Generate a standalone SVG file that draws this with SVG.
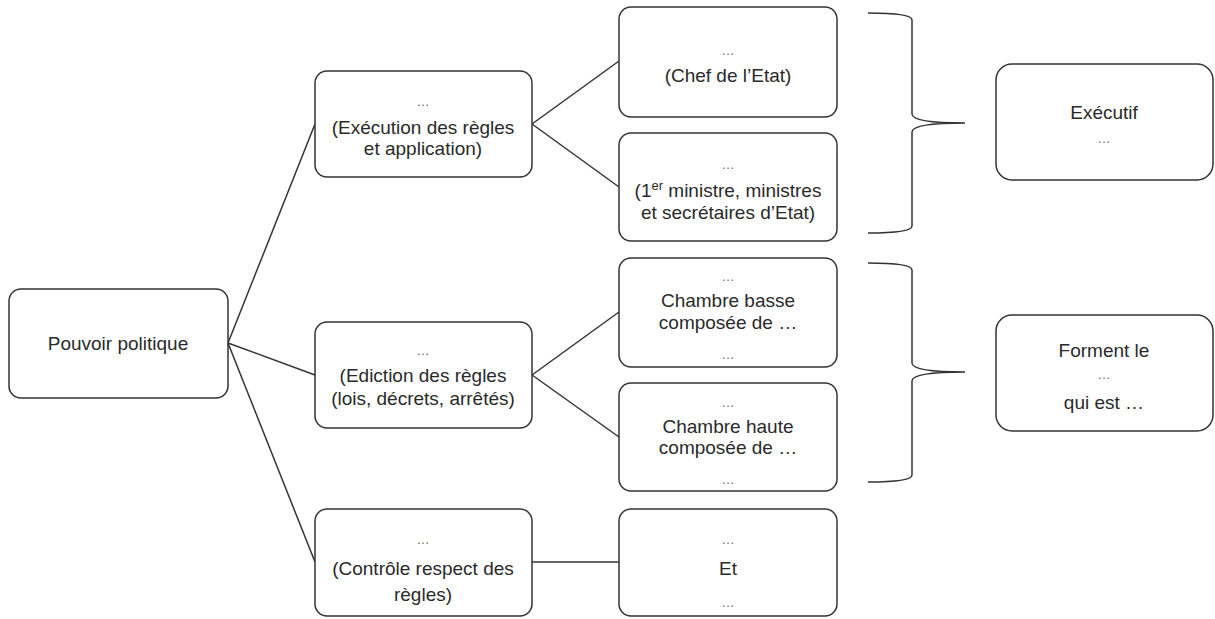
<svg xmlns="http://www.w3.org/2000/svg" width="1215" height="619" viewBox="0 0 1215 619">
<style>
.box{fill:#fff;stroke:#333;stroke-width:1.5}
.t{font-family:"Liberation Sans",Arial,sans-serif;font-size:19px;fill:#2a2a2a;text-anchor:middle}
.d{font-family:"Liberation Sans",Arial,sans-serif;font-size:13px;fill:#666;text-anchor:middle}
.c{fill:none;stroke:#333;stroke-width:1.5}
</style>
<rect width="1215" height="619" fill="#fff"/>
<g id="connectors">
<line class="c" x1="228" y1="343" x2="315" y2="124"/>
<line class="c" x1="228" y1="343" x2="315" y2="375"/>
<line class="c" x1="228" y1="343" x2="315" y2="562"/>
<line class="c" x1="532" y1="124" x2="619" y2="61"/>
<line class="c" x1="532" y1="124" x2="619" y2="187"/>
<line class="c" x1="532" y1="375" x2="619" y2="312"/>
<line class="c" x1="532" y1="375" x2="619" y2="437"/>
<line class="c" x1="532" y1="562" x2="619" y2="562"/>
</g>
<g id="brace1">
<path class="c" d="M868,13 Q912,13 912,20 L912,114 Q912,123 965,123 Q912,123 912,132 L912,226 Q912,233 868,233"/>
</g>
<g id="brace2">
<path class="c" d="M868,263 Q912,263 912,270 L912,363 Q912,372 965,372 Q912,372 912,381 L912,475 Q912,482 868,482"/>
</g>
<g id="pouvoir">
<rect class="box" x="9" y="289" width="219" height="109" rx="12"/>
<text class="t" x="118" y="350">Pouvoir politique</text>
</g>
<g id="execution">
<rect class="box" x="315" y="71" width="217" height="106" rx="12"/>
<text class="d" x="423" y="106">…</text>
<text class="t" x="423" y="134">(Exécution des règles</text>
<text class="t" x="423" y="155">et application)</text>
</g>
<g id="edition">
<rect class="box" x="315" y="322" width="217" height="106" rx="12"/>
<text class="d" x="423" y="355">…</text>
<text class="t" x="423" y="382">(Ediction des règles</text>
<text class="t" x="423" y="405">(lois, décrets, arrêtés)</text>
</g>
<g id="controle">
<rect class="box" x="315" y="509" width="217" height="107" rx="12"/>
<text class="d" x="423" y="544">…</text>
<text class="t" x="423" y="575">(Contrôle respect des</text>
<text class="t" x="423" y="601">règles)</text>
</g>
<g id="chef">
<rect class="box" x="619" y="7" width="218" height="110" rx="12"/>
<text class="d" x="728" y="55">…</text>
<text class="t" x="728" y="82">(Chef de l’Etat)</text>
</g>
<g id="ministres">
<rect class="box" x="619" y="133" width="218" height="108" rx="12"/>
<text class="d" x="728" y="169">…</text>
<text class="t" x="728" y="197">(1<tspan font-size="13" dy="-7">er</tspan><tspan dy="7"> ministre, ministres</tspan></text>
<text class="t" x="728" y="219">et secrétaires d’Etat)</text>
</g>
<g id="basse">
<rect class="box" x="619" y="258" width="218" height="109" rx="12"/>
<text class="d" x="728" y="281">…</text>
<text class="t" x="728" y="307">Chambre basse</text>
<text class="t" x="728" y="329">composée de …</text>
<text class="d" x="728" y="359">…</text>
</g>
<g id="haute">
<rect class="box" x="619" y="383" width="218" height="108" rx="12"/>
<text class="d" x="728" y="407">…</text>
<text class="t" x="728" y="433">Chambre haute</text>
<text class="t" x="728" y="454">composée de …</text>
<text class="d" x="728" y="484">…</text>
</g>
<g id="et">
<rect class="box" x="619" y="509" width="218" height="107" rx="12"/>
<text class="d" x="728" y="544">…</text>
<text class="t" x="728" y="575">Et</text>
<text class="d" x="728" y="607">…</text>
</g>
<g id="executif">
<rect class="box" x="996" y="64" width="217" height="116" rx="16"/>
<text class="t" x="1104" y="119">Exécutif</text>
<text class="d" x="1104" y="143">…</text>
</g>
<g id="forment">
<rect class="box" x="996" y="315" width="217" height="116" rx="16"/>
<text class="t" x="1104" y="357">Forment le</text>
<text class="d" x="1104" y="379">…</text>
<text class="t" x="1104" y="409">qui est …</text>
</g>
</svg>
